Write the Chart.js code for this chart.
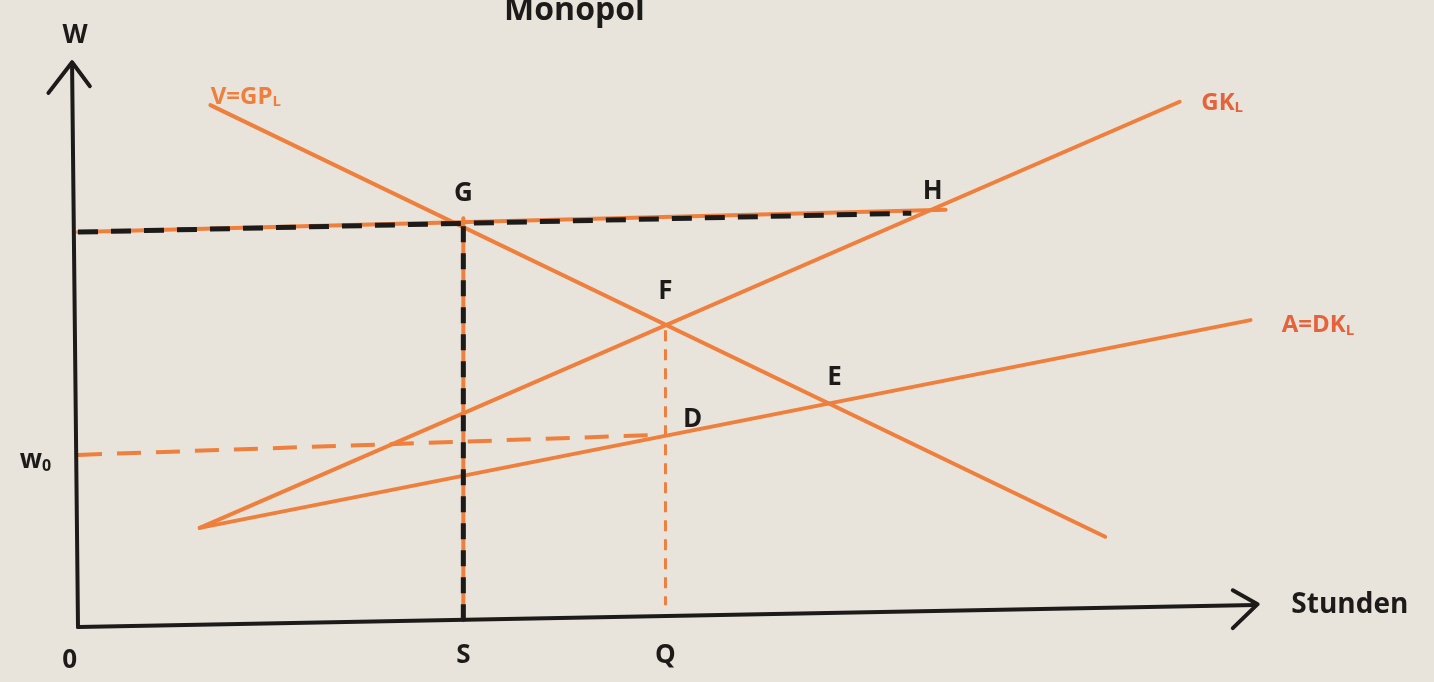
<!DOCTYPE html>
<html>
<head>
<meta charset="utf-8">
<title>Monopol</title>
<script src="https://cdn.jsdelivr.net/npm/chart.js@4"></script>
<style>
  html, body { margin: 0; padding: 0; background: #e8e4db; }
  #wrap { width: 1434px; height: 682px; }
</style>
</head>
<body>
<div id="wrap"><canvas id="myChart"></canvas></div>
<script>
// values (x = Stunden, y = w, both 0..100)
var vgplX = [11.2, 86.9];          // V = GP_L (falling)
var vgplY = [92.8, 15.3];
var gklX  = [10.3, 93.2];          // GK_L
var gklY  = [16.9, 93.4];
var dklX  = [10.3, 99.2];          // A = DK_L
var dklY  = [16.9, 54.2];

var hLineX = [0, 73.4];            // wage level through G .. H
var hLineY = [70.0, 74.0];
var hDashX = [0, 70.5];
var hDashY = [70.0, 73.4];
var sLineX = [32.6, 32.6];         // S
var sLineY = [0.3, 72.5];
var w0X    = [0, 49.2];            // w0 .. D
var w0Y    = [30.0, 33.6];
var qLineX = [49.7, 49.7];         // Q
var qLineY = [52.4, 3.0];

var xAxisX = [0, 99.6];
var xAxisY = [-0.9, 3.05];
var yAxisX = [0, -0.5];
var yAxisY = [-0.9, 99.8];
var xArrowX = [97.7, 99.8, 97.7];
var xArrowY = [5.7, 3.2, -1.1];
var yArrowX = [-2.5, -0.5, 1.0];
var yArrowY = [95.0, 100.5, 96.2];

// labels: text, subscript, anchor in data units
var labelText = ["Monopol", "W", "V=GP", "GK", "A=DK", "G", "H", "F", "E", "D", "w", "0", "S", "Q", "Stunden"];
var labelSub  = ["", "", "L", "L", "L", "", "", "", "", "", "0", "", "", "", ""];
var labelX    = [42.0, -0.25, 14.2, 96.8, 104.9, 32.6, 72.3, 49.7, 64.0, 52.0, -3.6, -0.7, 32.6, 49.7, 107.6];
var labelY    = [109.8, 105.3, 94.3, 93.2, 53.3, 76.9, 77.2, 59.3, 43.8, 36.3, 28.9, -6.9, -6.0, -6.0, 3.05];
var labelOrange = [false, false, true, true, true, false, false, false, false, false, false, false, false, false, false];

var ORANGE = "#ef7f3c";
var RED    = "#e4633c";
var INK    = "#1d1b1a";

function pts(xs, ys) {
    var out = [];
    for (var i = 0; i < xs.length; i++) out.push({x: xs[i], y: ys[i]});
    return out;
}

function line(xs, ys, color, width, dash, order) {
    return {
        data: pts(xs, ys),
        borderColor: color,
        borderWidth: width,
        borderDash: dash || [],
        borderCapStyle: dash ? 'butt' : 'round',
        borderJoinStyle: 'round',
        pointRadius: 0,
        fill: false,
        tension: 0,
        clip: false,
        order: order
    };
}

var paper = {
    id: 'paper',
    beforeDraw: function(chart) {
        var c = chart.ctx;
        c.save();
        c.fillStyle = "#e8e4db";
        c.fillRect(0, 0, chart.width, chart.height);
        c.restore();
    }
};

var labels = {
    id: 'labels',
    afterDatasetsDraw: function(chart) {
        var c = chart.ctx;
        var xs = chart.scales.x, ys = chart.scales.y;
        c.save();
        c.textBaseline = 'middle';
        for (var i = 0; i < labelText.length; i++) {
            var px = xs.getPixelForValue(labelX[i]);
            var py = ys.getPixelForValue(labelY[i]);
            var big = labelText[i] == "Monopol" ? 32 : (labelText[i] == "Stunden" ? 28 : 26);
            if (labelOrange[i]) big = 24;
            c.font = "bold " + big + "px 'Open Sans', sans-serif";
            var w1 = c.measureText(labelText[i]).width;
            var subFont = "bold " + Math.round(big * 0.62) + "px 'Open Sans', sans-serif";
            c.font = subFont;
            var w2 = labelSub[i] ? c.measureText(labelSub[i]).width : 0;
            var left = px - (w1 + w2) / 2;
            c.fillStyle = labelOrange[i] ? (labelText[i] == "V=GP" ? ORANGE : RED) : INK;
            c.textAlign = 'left';
            c.font = "bold " + big + "px 'Open Sans', sans-serif";
            c.fillText(labelText[i], left, py);
            if (labelSub[i]) {
                c.font = subFont;
                c.fillText(labelSub[i], left + w1, py + big * 0.22);
            }
        }
        c.restore();
    }
};

var ctx = document.getElementById("myChart");

// scale runs a bit past the axes so the arrow tips are not trimmed
var myChart = new Chart(ctx, {
    type: 'line',
    data: {
        datasets: [
            line(hDashX, hDashY, INK, 5, [20, 13], 0),
            line(sLineX, sLineY, INK, 5, [16, 11], 0),
            line(vgplX, vgplY, ORANGE, 4, null, 2),
            line(gklX, gklY, ORANGE, 4, null, 2),
            line(dklX, dklY, ORANGE, 4, null, 2),
            line(hLineX, hLineY, ORANGE, 4, null, 3),
            line(sLineX, sLineY, ORANGE, 4, null, 3),
            line(w0X, w0Y, ORANGE, 4, [24, 15], 2),
            line(qLineX, qLineY, ORANGE, 3, [11, 8], 2),
            line(xAxisX, xAxisY, INK, 4, null, 1),
            line(yAxisX, yAxisY, INK, 4, null, 1),
            line(xArrowX, xArrowY, INK, 4, null, 1),
            line(yArrowX, yArrowY, INK, 4, null, 1)
        ]
    },
    options: {
        responsive: true,
        maintainAspectRatio: false,
        animation: false,
        events: [],
        layout: { padding: { left: 7.08, top: 65, right: 174, bottom: 48.86 } },
        plugins: { legend: { display: false }, tooltip: { enabled: false } },
        scales: {
            x: { type: 'linear', min: -6, max: 100, display: false },
            y: { type: 'linear', min: -2, max: 100, display: false }
        }
    },
    plugins: [paper, labels]
});
</script>
</body>
</html>
